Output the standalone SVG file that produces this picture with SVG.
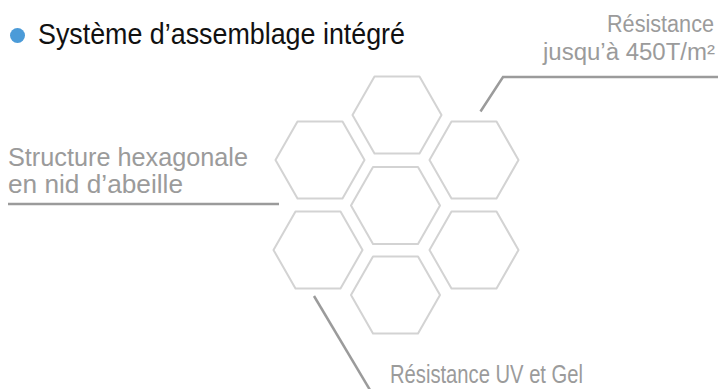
<svg xmlns="http://www.w3.org/2000/svg" xmlns:xlink="http://www.w3.org/1999/xlink" width="722" height="389" viewBox="0 0 722 389">
<style>
.hex{fill:none;stroke:#d3d3d3;stroke-width:2;stroke-linejoin:round}
.conn{fill:none;stroke:#9b9b9b;stroke-width:2.5}
.lbl{font-family:"Liberation Sans",Arial,sans-serif;font-size:25.5px;fill:#9b9b9b}
.lbl-r{font-size:23px}
.title{font-family:"Liberation Sans",Arial,sans-serif;font-size:29.5px;fill:#111111}
</style>
<defs>
<polygon id="hexshape" points="-22.5,-38.5 22.5,-38.5 44.5,0 22.5,38.5 -22.5,38.5 -44.5,0"/>
</defs>
<rect width="722" height="389" fill="#ffffff"/>
<g id="title">
<circle cx="17.5" cy="35.5" r="7.5" fill="#4b9bd8"/>
<text class="title" x="38" y="43.5" textLength="367" lengthAdjust="spacingAndGlyphs">Système d’assemblage intégré</text>
</g>
<g id="hexagons">
<g id="hex-top"><use xlink:href="#hexshape" class="hex" x="397" y="115"/></g>
<g id="hex-upper-left"><use xlink:href="#hexshape" class="hex" x="320" y="160"/></g>
<g id="hex-upper-right"><use xlink:href="#hexshape" class="hex" x="474" y="160"/></g>
<g id="hex-center"><use xlink:href="#hexshape" class="hex" x="395.5" y="205.5"/></g>
<g id="hex-lower-left"><use xlink:href="#hexshape" class="hex" x="318" y="250"/></g>
<g id="hex-lower-right"><use xlink:href="#hexshape" class="hex" x="474" y="250"/></g>
<g id="hex-bottom"><use xlink:href="#hexshape" class="hex" x="395.5" y="295"/></g>
</g>
<g id="connectors">
<polyline class="conn" points="480.5,111.5 503,77 718,77"/>
<line class="conn" x1="8" y1="204" x2="279" y2="204"/>
<line class="conn" x1="314" y1="296" x2="370" y2="390"/>
</g>
<g id="label-resistance">
<text class="lbl lbl-r" x="607" y="32" textLength="107" lengthAdjust="spacingAndGlyphs">Résistance</text>
<text class="lbl lbl-r" x="543" y="59.5" textLength="172" lengthAdjust="spacingAndGlyphs">jusqu’à 450T/m²</text>
</g>
<g id="label-structure">
<text class="lbl" x="8" y="166" textLength="240" lengthAdjust="spacingAndGlyphs">Structure hexagonale</text>
<text class="lbl" x="8" y="193" textLength="175" lengthAdjust="spacingAndGlyphs">en nid d’abeille</text>
</g>
<g id="label-uv">
<text class="lbl" x="390" y="383" textLength="193" lengthAdjust="spacingAndGlyphs">Résistance UV et Gel</text>
</g>
</svg>
